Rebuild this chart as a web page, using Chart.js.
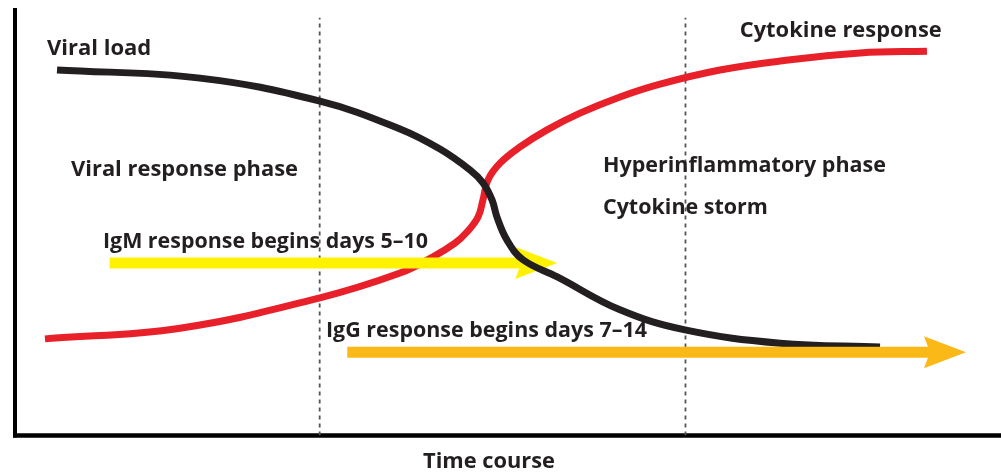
<!DOCTYPE html>
<html><head><meta charset="utf-8">
<script src="https://cdn.jsdelivr.net/npm/chart.js@4.4.1/dist/chart.umd.min.js"></script>
<style>html,body{margin:0;padding:0;background:#fff;overflow:hidden;} canvas{display:block;}</style>
</head><body>
<canvas id="c" width="1001" height="475"></canvas>
<script>
// ---- data (time course 0-100, relative level 0-100) ----
const viralLoadX = [4.26, 18.76, 30.93, 39.05, 43.10, 46.15, 47.46, 48.38, 48.88, 49.90, 51.52, 55.0, 61.36, 67.95, 77.59, 87.73];
const viralLoadY = [85.5, 83.6, 78.2, 71.7, 67.0, 62.1, 59.1, 55.1, 51.1, 45.7, 41.1, 37.1, 29.4, 24.7, 21.6, 20.7];
const cytokineX  = [3.04, 16.73, 30.93, 39.05, 42.39, 44.62, 45.84, 46.96, 47.46, 47.97, 49.19, 51.22, 53.96, 57.30, 61.36, 65.42, 71.50, 77.59, 85.70, 92.49];
const cytokineY  = [22.6, 25.1, 32.2, 38.0, 41.8, 45.0, 47.6, 51.1, 55.1, 59.8, 63.7, 67.5, 71.5, 75.4, 79.2, 82.2, 85.5, 87.6, 89.5, 89.9];
const phaseBoundaries = [30.9, 68.0];
const phaseTop = 97.7;
const igmArrowX = [9.6, 55.0];
const igmLevel = 40.35;
const iggArrowX = [33.7, 96.45];
const iggLevel = 19.5;
const labels = [
  {text: 'Viral load', x: 3.24, y: 88.9, w: 106},
  {text: 'Cytokine response', x: 73.5, y: 93.2, w: 202},
  {text: 'Viral response phase', x: 5.68, y: 60.7, w: 227},
  {text: 'Hyperinflammatory phase', x: 59.63, y: 61.6, w: 283},
  {text: 'Cytokine storm', x: 59.63, y: 51.8, w: 165},
  {text: 'IgM response begins days 5\u201310', x: 8.92, y: 43.9, w: 325},
  {text: 'IgG response begins days 7\u201314', x: 31.54, y: 23.0, w: 321}
];
const xTitle = 'Time course';

const pts = (xs, ys) => xs.map((x, i) => ({x, y: ys[i]}));
const hline = (xs, y) => xs.map(x => ({x, y}));

const TEXT_COLOR = '#231f20';
const FONT = 'bold 22px "Open Sans", "Liberation Sans", sans-serif';

const arrowPlugin = {
  id: 'arrows',
  beforeDatasetDraw(chart, args) {
    const ds = chart.data.datasets[args.index];
    if (!ds.arrowHead) return;
    const pt = args.meta.data[args.meta.data.length - 1];
    const ctx = chart.ctx;
    ctx.save();
    ctx.beginPath();
    ctx.rect(0, 0, pt.x - 30, chart.height);
    ctx.clip();
  },
  afterDatasetDraw(chart, args) {
    const ds = chart.data.datasets[args.index];
    if (!ds.arrowHead) return;
    const ctx = chart.ctx;
    ctx.restore();
    const pt = args.meta.data[args.meta.data.length - 1];
    const tx = pt.x, ty = pt.y;
    ctx.save();
    ctx.fillStyle = ds.borderColor;
    ctx.beginPath();
    ctx.moveTo(tx, ty);
    ctx.lineTo(tx - 42, ty - 16);
    ctx.lineTo(tx - 36, ty);
    ctx.lineTo(tx - 42, ty + 16);
    ctx.closePath();
    ctx.fill();
    ctx.restore();
  }
};

const axesPlugin = {
  id: 'axesLines',
  beforeDatasetsDraw(chart) {
    const {ctx, chartArea: a} = chart;
    ctx.save();
    ctx.strokeStyle = '#000';
    ctx.lineWidth = 4;
    ctx.beginPath();
    ctx.moveTo(a.left, a.top);
    ctx.lineTo(a.left, a.bottom + 2);
    ctx.stroke();
    ctx.lineWidth = 4.5;
    ctx.beginPath();
    ctx.moveTo(a.left - 2, a.bottom);
    ctx.lineTo(chart.width, a.bottom);
    ctx.stroke();
    ctx.restore();
  }
};

const textPlugin = {
  id: 'texts',
  afterDraw(chart) {
    const {ctx, scales: {x, y}} = chart;
    ctx.save();
    ctx.fillStyle = TEXT_COLOR;
    ctx.font = FONT;
    ctx.textAlign = 'left';
    ctx.textBaseline = 'alphabetic';
    labels.forEach(l => {
      ctx.fillText(l.text, x.getPixelForValue(l.x), y.getPixelForValue(l.y), l.w);
    });
    ctx.fillText(xTitle, 423, 468, 132);
    ctx.restore();
  }
};

new Chart(document.getElementById('c'), {
  type: 'line',
  data: {
    datasets: [
      {label: 'IgG', data: hline(iggArrowX, iggLevel), borderColor: '#fbb917', borderWidth: 11, pointRadius: 0, borderCapStyle: 'butt', arrowHead: true, tension: 0},
      {label: 'Viral load', data: pts(viralLoadX, viralLoadY), borderColor: '#231f20', borderWidth: 7, pointRadius: 0, tension: 0.4, borderCapStyle: 'butt', borderJoinStyle: 'round'},
      {label: 'IgM', data: hline(igmArrowX, igmLevel), borderColor: '#fff200', borderWidth: 11, pointRadius: 0, borderCapStyle: 'butt', arrowHead: true, tension: 0},
      {label: 'Cytokine response', data: pts(cytokineX, cytokineY), borderColor: '#e8202a', borderWidth: 7, pointRadius: 0, tension: 0.4, borderCapStyle: 'butt', borderJoinStyle: 'round'},
      {label: 'Phase 1', data: [{x: phaseBoundaries[0], y: 0}, {x: phaseBoundaries[0], y: phaseTop}], borderColor: '#555', borderWidth: 1.8, borderDash: [4, 4], pointRadius: 0},
      {label: 'Phase 2', data: [{x: phaseBoundaries[1], y: 0}, {x: phaseBoundaries[1], y: phaseTop}], borderColor: '#555', borderWidth: 1.8, borderDash: [4, 4], pointRadius: 0}
    ]
  },
  options: {
    responsive: false,
    animation: false,
    devicePixelRatio: 1,
    layout: {padding: {left: 15, top: 8, right: 0, bottom: 39.5}},
    plugins: {legend: {display: false}, tooltip: {enabled: false}},
    scales: {
      x: {type: 'linear', min: 0, max: 100, display: false},
      y: {type: 'linear', min: 0, max: 100, display: false}
    }
  },
  plugins: [axesPlugin, arrowPlugin, textPlugin]
});
</script>
</body></html>
